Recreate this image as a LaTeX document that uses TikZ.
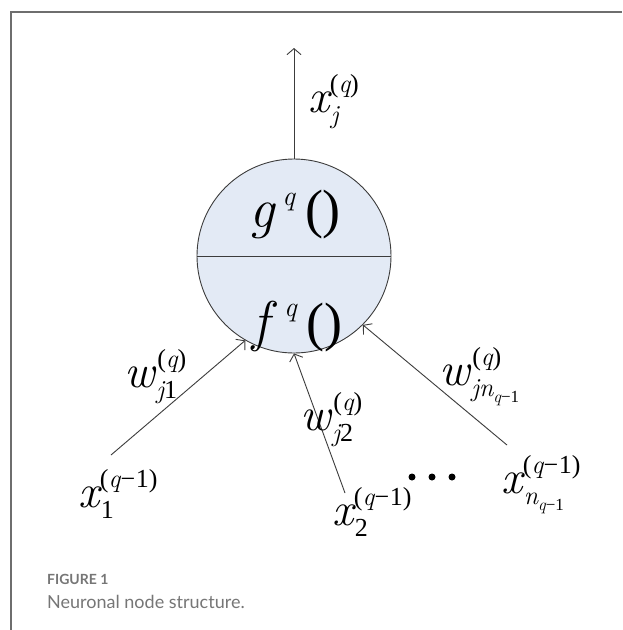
\documentclass[tikz,border=0pt]{standalone}
\usepackage{fontspec}
\newfontfamily\tnr{Liberation Serif}
\newfontfamily\capfont{Lato}
\usetikzlibrary{arrows.meta}
\definecolor{framec}{HTML}{6E6E6E}
\definecolor{ink}{HTML}{3C3C3C}
\definecolor{cellfill}{HTML}{E3EAF5}
\definecolor{captxt}{HTML}{767676}
\newcommand{\fsz}[1]{\fontsize{#1}{#1}\selectfont}
\newcommand{\lmi}[1]{{\normalfont\itshape #1}}
\newcommand{\up}[1]{{\tnr #1}}
\newcommand{\pq}{\up{(}\lmi{q}\up{)}}
\newcommand{\pqm}{\up{(}\lmi{q}\up{\kern0.5pt−\kern0.5pt1)}}
% base, superscript, subscript
\newcommand{\mlab}[3]{{\fsz{47}\lmi{#1}}\kern0.5pt\rlap{\raisebox{20pt}{\fsz{26}#2}}\kern1pt\raisebox{-11pt}{\fsz{26}#3}}
\tikzset{
  lab/.style={anchor=base west, inner sep=0pt, text=black},
  conn/.style={draw=ink, line width=0.9pt, -{Straight Barb[length=6pt,width=14pt]}},
  cell/.style={circle, draw=ink, line width=0.9pt, fill=cellfill, minimum size=194pt, inner sep=0pt},
  dotmark/.style={circle, fill=black, minimum size=7pt, inner sep=0pt},
  captext/.style={anchor=base west, inner sep=0pt, text=captxt}
}
\begin{document}
\begin{tikzpicture}[x=1pt,y=-1pt]
\useasboundingbox (0,0) rectangle (622,630);
\fill[white] (0,0) rectangle (622,630);
\draw[framec, line width=1.5pt] (11,630) -- (11,12) -- (622,12);

\node[cell] (neuron) at (294,256) {};
\draw[ink, line width=0.9pt] (neuron.west) -- (neuron.east);

\node[lab] (gtext) at (249,227) {\fsz{56}\lmi{g}\kern8pt\raisebox{22pt}{\fsz{28}\lmi{q}}\kern10pt\up{\fsz{54}()}};
\node[lab] (ftext) at (252,340) {\fsz{56}\lmi{f}\kern15pt\raisebox{24pt}{\fsz{28}\lmi{q}}\kern10pt\up{\fsz{54}()}};

\coordinate (out) at (294,48);
\draw[conn] (neuron.north) -- (out);
\node[lab] (xj) at (308,112) {\mlab{x}{\pq}{\lmi{j}}};

\coordinate (in1) at (111,455);
\coordinate (in2) at (345,493);
\coordinate (in3) at (507,445);
\draw[conn] (in1) -- (neuron.240.3);
\draw[conn] (in2) -- (neuron.270.6);
\draw[conn] (in3) -- (neuron.315.8);

\node[lab] (w1) at (124,387) {\mlab{w}{\kern2pt\pq}{\lmi{j}\up{1}}};
\node[lab] (w2) at (300,430) {\mlab{w}{\kern2pt\pq}{\lmi{j}\up{2}}};
\node[lab] (wn) at (439,385) {\mlab{w}{\kern2pt\pq}{\lmi{jn}\raisebox{-6pt}{\fsz{17}\lmi{q}\up{−1}}}};

\node[lab] (x1) at (78,507) {\mlab{x}{\pqm}{\up{1}}};
\node[lab] (x2) at (332,525) {\mlab{x}{\pqm}{\up{2}}};
\node[lab] (xn) at (501,493) {\mlab{x}{\pqm}{\lmi{n}\raisebox{-6pt}{\fsz{17}\lmi{q}\up{−1}}}};

\node[dotmark] (d1) at (412,477) {};
\node[dotmark] (d2) at (432,477) {};
\node[dotmark] (d3) at (452,477) {};

\node[captext] (figlab) at (47,584) {\capfont\bfseries\fsz{14}FIGURE 1};
\node[captext] (figcap) at (47,608) {\capfont\fsz{18}Neuronal node structure.};
\end{tikzpicture}
\end{document}
